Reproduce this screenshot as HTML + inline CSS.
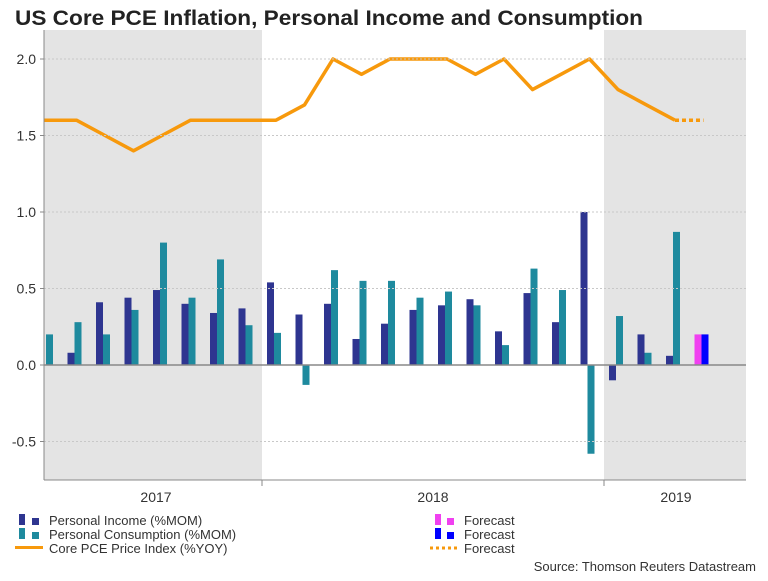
<!DOCTYPE html>
<html><head><meta charset="utf-8"><style>
body{margin:0;background:#fff;font-family:"Liberation Sans",sans-serif;}
svg text{font-family:"Liberation Sans",sans-serif;}
</style></head><body>
<svg id="c" width="768" height="576" xmlns="http://www.w3.org/2000/svg">
<text x="15" y="25" font-size="21" font-weight="bold" fill="#222" textLength="628" lengthAdjust="spacingAndGlyphs">US Core PCE Inflation, Personal Income and Consumption</text>
<defs><clipPath id="pc"><rect x="44" y="30" width="702" height="450"/></clipPath></defs>
<g id="plot" clip-path="url(#pc)"></g>
<g id="axes"></g>
</svg>
<script>
const months = ["Apr17","May17","Jun17","Jul17","Aug17","Sep17","Oct17","Nov17","Dec17","Jan18","Feb18","Mar18","Apr18","May18","Jun18","Jul18","Aug18","Sep18","Oct18","Nov18","Dec18","Jan19","Feb19","Mar19","Apr19"];
const income = [null,null,0.08,0.41,0.44,0.49,0.40,0.34,0.37,0.54,0.33,0.40,0.17,0.27,0.36,0.39,0.43,0.22,0.47,0.28,1.00,-0.10,0.20,0.06,null];
const consumption = [null,0.20,0.28,0.20,0.36,0.80,0.44,0.69,0.26,0.21,-0.13,0.62,0.55,0.55,0.44,0.48,0.39,0.13,0.63,0.49,-0.58,0.32,0.08,0.87,null];
const incomeForecast = [null,null,null,null,null,null,null,null,null,null,null,null,null,null,null,null,null,null,null,null,null,null,null,null,0.20];
const consumptionForecast = [null,null,null,null,null,null,null,null,null,null,null,null,null,null,null,null,null,null,null,null,null,null,null,null,0.20];
const pce = [1.6,1.6,1.6,1.5,1.4,1.5,1.6,1.6,1.6,1.6,1.7,2.0,1.9,2.0,2.0,2.0,1.9,2.0,1.8,1.9,2.0,1.8,1.7,1.6,null];
const pceForecast = [null,null,null,null,null,null,null,null,null,null,null,null,null,null,null,null,null,null,null,null,null,null,null,1.6,1.6];
const yTicks = [-0.5,0.0,0.5,1.0,1.5,2.0];
const yTickLabels = ["-0.5","0.0","0.5","1.0","1.5","2.0"];
const years = ["2017","2018","2019"];

const NS="http://www.w3.org/2000/svg";
const BW=28.5, firstStart=-80+28.5*3;
function bandStart(i){return firstStart+i*BW;}
function y(v){return 365-v*153;}
const plot=document.getElementById('plot'), axes=document.getElementById('axes');
function mk(tag,attrs,parent){const e=document.createElementNS(NS,tag);for(const k in attrs)e.setAttribute(k,attrs[k]);parent.appendChild(e);return e;}

let s1=mk('rect',{x:44,y:30,width:218,height:450,fill:'#e4e4e4'},plot);


let s2=mk('rect',{x:604,y:30,width:142,height:450,fill:'#e4e4e4'},plot);



yTicks.forEach((t,i)=>{
  if(t!==0){let g=mk('line',{x1:44,x2:746,y1:y(t),y2:y(t),stroke:'#c8c8c8','stroke-dasharray':'2,2'},axes);
  
  }
  let tx=mk('text',{x:36,y:y(t)+5,'text-anchor':'end','font-size':14,fill:'#333'},axes);
  tx.textContent=yTickLabels[i];
  
  
  let tk=mk('line',{x1:40,x2:44,y1:y(t),y2:y(t),stroke:'#888'},axes);
  
  
});

function bar(v,x,color,name){
  if(v===null)return;
  let r=mk('rect',{x:x,y:Math.min(y(v),y(0)),width:7,height:Math.abs(y(v)-y(0)),fill:color},plot);
  
  
}
months.forEach((m,i)=>{
  const b=bandStart(i);
  bar(income[i],b+5,'#2e3590','bar-income');
  bar(consumption[i],b+12,'#1e8a9e','bar-consumption');
  bar(incomeForecast[i],b+5,'#f040f0','bar-income-forecast');
  bar(consumptionForecast[i],b+12,'#0000ff','bar-consumption-forecast');
});
let zl=mk('line',{x1:44,x2:746,y1:y(0),y2:y(0),stroke:'#888','stroke-width':1.5},plot);



function pts(arr){const p=[];arr.forEach((v,i)=>{if(v!==null)p.push((bandStart(i)+14)+','+y(v));});return p.join(' ');}
let l1=mk('polyline',{points:pts(pce),fill:'none',stroke:'#f7990c','stroke-width':3.5,'stroke-linejoin':'round'},plot);


let l2=mk('polyline',{points:pts(pceForecast),fill:'none',stroke:'#f7990c','stroke-width':3.5,'stroke-dasharray':'4,3'},plot);



let ya=mk('line',{x1:44,x2:44,y1:30,y2:480,stroke:'#888'},axes);


let xa=mk('line',{x1:44,x2:746,y1:480,y2:480,stroke:'#888'},axes);


[262,604].forEach(x=>{let t=mk('line',{x1:x,x2:x,y1:480,y2:486,stroke:'#888'},axes);

});
[156,433,676].forEach((x,i)=>{let t=mk('text',{x:x,y:502,'text-anchor':'middle','font-size':14,fill:'#333'},axes);t.textContent=years[i];

});
</script>
<div style="position:absolute;left:0;top:0;">
<svg width="768" height="576" style="position:absolute;left:0;top:0" xmlns="http://www.w3.org/2000/svg">
<g font-size="13" fill="#333">
<g><rect x="19" y="514" width="6" height="11" fill="#2e3590"/><rect x="32" y="518" width="7" height="7" fill="#2e3590"/><text x="49" y="525">Personal Income (%MOM)</text></g>
<g><rect x="19" y="528" width="6" height="11" fill="#1e8a9e"/><rect x="32" y="532" width="7" height="7" fill="#1e8a9e"/><text x="49" y="539">Personal Consumption (%MOM)</text></g>
<g><rect x="15" y="546" width="28" height="3" fill="#f7990c"/><text x="49" y="553">Core PCE Price Index (%YOY)</text></g>
<g><rect x="435" y="514" width="6" height="11" fill="#f040f0"/><rect x="447" y="518" width="7" height="7" fill="#f040f0"/><text x="464" y="525">Forecast</text></g>
<g><rect x="435" y="528" width="6" height="11" fill="#0000ff"/><rect x="447" y="532" width="7" height="7" fill="#0000ff"/><text x="464" y="539">Forecast</text></g>
<g><line x1="430" x2="458" y1="548" y2="548" stroke="#f7990c" stroke-width="3" stroke-dasharray="3,3"/><text x="464" y="553">Forecast</text></g>
<text x="756" y="571" text-anchor="end">Source: Thomson Reuters Datastream</text>
</g></svg></div>
</body></html>
